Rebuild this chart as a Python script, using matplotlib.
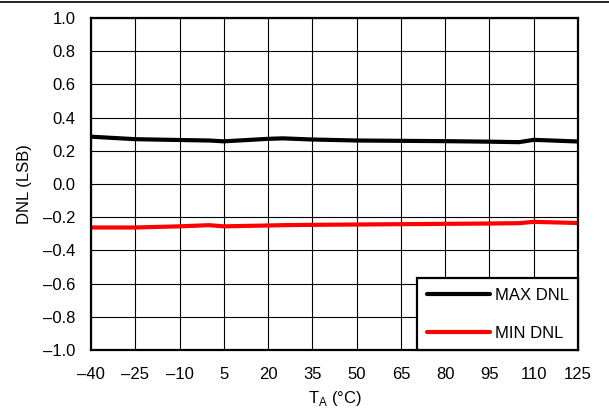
import matplotlib
matplotlib.use("Agg")
from matplotlib import pyplot as plt
from matplotlib.lines import Line2D

plt.rcParams['font.family'] = ['Liberation Sans', 'DejaVu Sans']

temps = [-40, -25, -10, 0, 5, 20, 25, 35, 50, 65, 80, 95, 105, 110, 125]
max_dnl = [0.285, 0.27, 0.265, 0.262, 0.257, 0.272, 0.275, 0.268, 0.262, 0.26, 0.258, 0.255, 0.252, 0.266, 0.256]
min_dnl = [-0.262, -0.262, -0.255, -0.248, -0.255, -0.25, -0.248, -0.246, -0.244, -0.242, -0.24, -0.238, -0.236, -0.228, -0.235]

x_ticks = [-40, -25, -10, 5, 20, 35, 50, 65, 80, 95, 110, 125]
y_ticks = [-1.0, -0.8, -0.6, -0.4, -0.2, 0.0, 0.2, 0.4, 0.6, 0.8, 1.0]

fig = plt.figure(figsize=(6.09, 4.13), dpi=100)
ax = fig.add_axes([91 / 609, 1 - 350 / 413, 487 / 609, 332 / 413])

ax.plot(temps, max_dnl, color='black', lw=3, label='MAX DNL', solid_capstyle='round')
ax.plot(temps, min_dnl, color='red', lw=3, label='MIN DNL', solid_capstyle='round')

ax.set_xlim(-40, 125)
ax.set_ylim(-1.0, 1.0)
ax.set_xticks(x_ticks)
ax.set_xticklabels([str(t).replace('-', '\u2013') for t in x_ticks])
ax.set_yticks(y_ticks)
ax.set_yticklabels([f'{v:.1f}'.replace('-', '\u2013') for v in y_ticks])
ax.tick_params(length=0, labelsize=12)
ax.tick_params(axis='x', pad=12)
ax.tick_params(axis='y', pad=11)
ax.grid(True, color='black', lw=0.8)
for s in ax.spines.values():
    s.set_linewidth(1.6)

ax.set_xlabel(r'T$_\mathregular{A}$ (°C)', fontsize=12, labelpad=5)
ax.set_ylabel('DNL (LSB)', fontsize=12, labelpad=8)

leg = ax.legend(loc='lower right', bbox_to_anchor=(1, 0), borderaxespad=0,
                fancybox=False, framealpha=1, edgecolor='black', fontsize=12,
                handlelength=3.8, handletextpad=0.3, labelspacing=1.4, borderpad=0.55)
leg.get_frame().set_linewidth(1.6)

fig.add_artist(Line2D([0, 1], [1 - 2 / 413, 1 - 2 / 413], color='black', lw=1.2))

fig.savefig('out.png', dpi=100)
